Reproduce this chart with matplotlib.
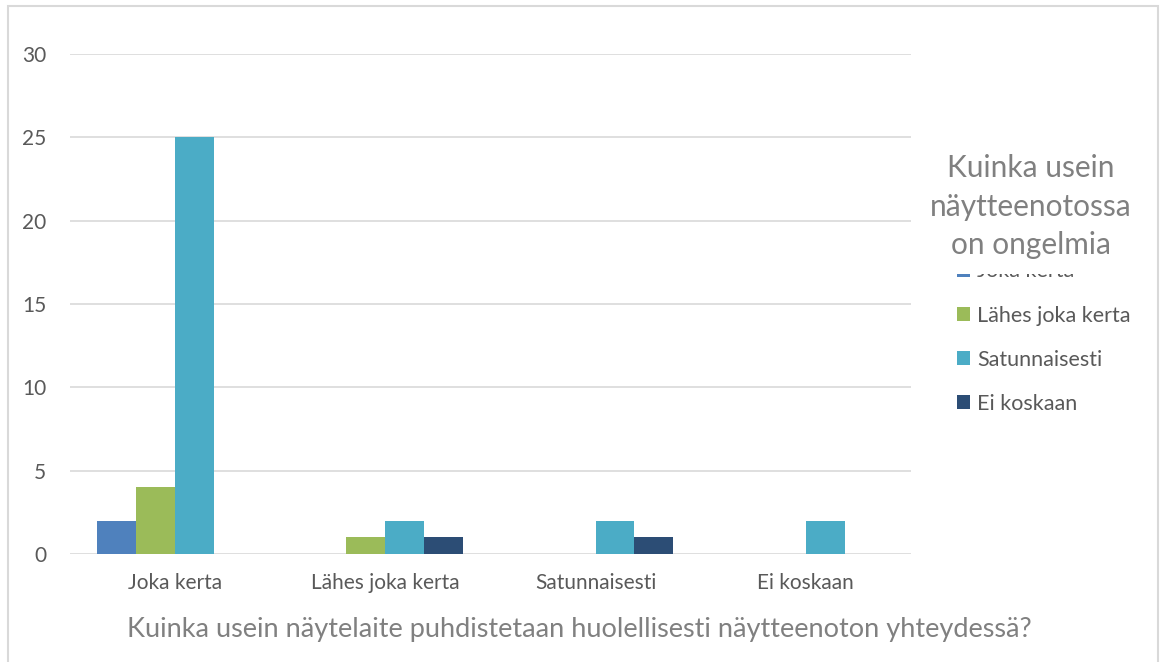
import matplotlib
matplotlib.use("Agg")
import matplotlib.pyplot as plt
from matplotlib.patches import Rectangle
import numpy as np

plt.rcParams['font.family'] = ['Lato', 'DejaVu Sans']

categories = ["Joka kerta", "Lähes joka kerta", "Satunnaisesti", "Ei koskaan"]
series_names = ["Joka kerta", "Lähes joka kerta", "Satunnaisesti", "Ei koskaan"]
# rows: series (problem frequency), columns: categories (cleaning frequency)
values = [
    [2, 0, 0, 0],
    [4, 1, 0, 0],
    [25, 2, 2, 2],
    [0, 1, 1, 0],
]
colors = ["#4F81BD", "#9BBB59", "#4BACC6", "#2C4D75"]
yticks = [0, 5, 10, 15, 20, 25, 30]

fig = plt.figure(figsize=(11.6, 6.62), dpi=100)
ax = fig.add_axes([0.0603, 0.1631, 0.7250, 0.7553])

x = np.arange(len(categories))
w = 0.185
handles = []
for i, (name, vals, c) in enumerate(zip(series_names, values, colors)):
    b = ax.bar(x + (i - 1.5) * w, vals, width=w, color=c, label=name,
               edgecolor='none', zorder=3)
    handles.append(b)

ax.set_xlim(-0.5, len(categories) - 0.5)
ax.set_ylim(0, 30)
ax.set_yticks(yticks)
ax.set_xticks(x)
ax.set_xticklabels(categories)
ax.yaxis.grid(True, color="#D9D9D9", linewidth=1.2, zorder=0)
ax.set_axisbelow(True)
for s in ax.spines.values():
    s.set_visible(False)
ax.tick_params(axis='both', length=0, labelsize=15, labelcolor="#595959")
ax.tick_params(axis='y', pad=17)
ax.tick_params(axis='x', pad=14)

ax.set_xlabel("Kuinka usein näytelaite puhdistetaan huolellisesti näytteenoton yhteydessä?",
              fontsize=19.5, color="#808080", labelpad=17)
ax.xaxis.label.set_x(0.606)

leg = fig.legend(handles=handles, labels=series_names, loc='upper left',
                 bbox_to_anchor=(0.818, 0.618), frameon=False, fontsize=15.5,
                 handlelength=0.6, handleheight=0.6, handletextpad=0.3,
                 labelspacing=1.12, borderaxespad=0)
for t in leg.get_texts():
    t.set_color("#595959")

# legend title drawn on top of the legend with an opaque background
title = fig.text(0.889, 0.688, "Kuinka usein\nnäytteenotossa\non ongelmia",
                 ha='center', va='center', fontsize=21.5, color="#808080",
                 linespacing=1.45, zorder=10,
                 bbox=dict(facecolor='white', edgecolor='none', pad=11))

# chart-area border
fig.patches.append(Rectangle((8 / 1160, -0.05), 1150 / 1160, (656 / 662) + 0.05,
                             transform=fig.transFigure, fill=False,
                             edgecolor="#D9D9D9", linewidth=1.5, zorder=0))

fig.savefig("out.png", dpi=100, facecolor='white')
